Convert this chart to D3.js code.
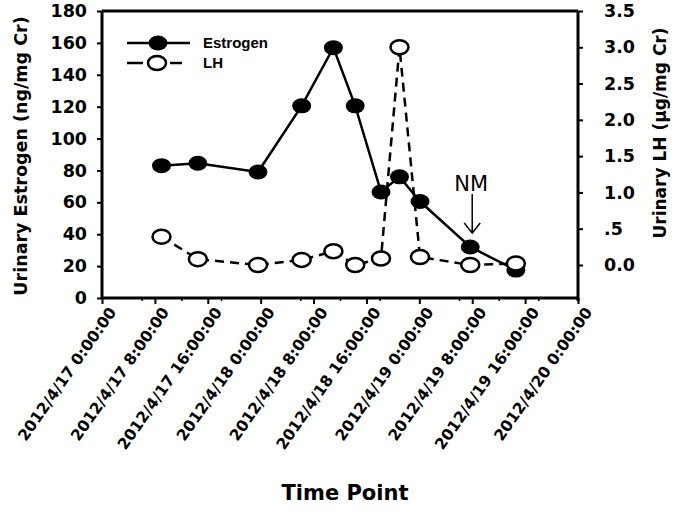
<!DOCTYPE html>
<html>
<head>
<meta charset="utf-8">
<script src="https://cdn.jsdelivr.net/npm/d3@7"></script>
<style>
  body { margin: 0; background: #fff; }
  svg text { fill: #000; }
</style>
</head>
<body>
<div id="container"></div>
<script>
/* CONSTANTS AND GLOBALS */
const width = 675,
  height = 515,
  margin = { left: 102, top: 11, bottom: 217, right: 95 };

/* DATA */
const timePoints = ["2012-04-17 09:00", "2012-04-17 14:30", "2012-04-17 23:36", "2012-04-18 06:12",
  "2012-04-18 11:00", "2012-04-18 14:18", "2012-04-18 18:12", "2012-04-18 21:00",
  "2012-04-19 00:06", "2012-04-19 07:42", "2012-04-19 14:36"];
const estrogen = [83, 84.5, 79, 120.5, 157, 120.5, 66.5, 76, 60.5, 32, 17.5];
const lh = [0.39, 0.08, 0.0, 0.07, 0.19, 0.0, 0.09, 3.0, 0.11, 0.0, 0.02];
const leftTicks = [0, 20, 40, 60, 80, 100, 120, 140, 160, 180];
const rightTicks = [0, 0.5, 1.0, 1.5, 2.0, 2.5, 3.0, 3.5];
const xStart = "2012-04-17 00:00", xEnd = "2012-04-20 00:00";
const nmTime = "2012-04-19 08:00";

const parse = d3.timeParse("%Y-%m-%d %H:%M");
const data = timePoints.map((t, i) => ({ t: parse(t), e: estrogen[i], lh: lh[i] }));

// SCALES
const xScale = d3.scaleTime()
  .domain([parse(xStart), parse(xEnd)])
  .range([margin.left, width - margin.right - 2]);

const yLeft = d3.scaleLinear()
  .domain([0, 180])
  .range([height - margin.bottom, margin.top]);

const yRight = d3.scaleLinear()
  .domain([-0.455, 3.5])
  .range([height - margin.bottom, margin.top]);

// CREATE SVG ELEMENT
const svg = d3.select("#container")
  .append("svg")
  .attr("width", width)
  .attr("height", height);

const x0 = xScale.range()[0], x1 = xScale.range()[1];
const yTop = margin.top, yBot = height - margin.bottom;

// frame (top line)
svg.append("line")
  .attr("x1", x0).attr("x2", x1).attr("y1", yTop).attr("y2", yTop)
  .attr("stroke", "#000").attr("stroke-width", 3);

// AXES
const tickFont = "'DejaVu Sans', sans-serif";

const leftAxis = d3.axisLeft(yLeft).tickValues(leftTicks).tickSize(5).tickPadding(10);
svg.append("g")
  .attr("transform", `translate(${x0},0)`)
  .call(leftAxis)
  .call(g => g.select(".domain").attr("stroke-width", 3).attr("d", `M0,${yTop}V${yBot}`))
  .call(g => g.selectAll(".tick line").attr("stroke-width", 2))
  .call(g => g.selectAll(".tick text")
    .attr("font-family", tickFont).attr("font-weight", "bold").attr("font-size", 17.5));

const rightAxis = d3.axisRight(yRight).tickValues(rightTicks).tickSize(5).tickPadding(21)
  .tickFormat(d => d === 0.5 ? ".5" : d3.format(".1f")(d));
svg.append("g")
  .attr("transform", `translate(${x1},0)`)
  .call(rightAxis)
  .call(g => g.select(".domain").attr("stroke-width", 3).attr("d", `M0,${yTop}V${yBot + 3}`))
  .call(g => g.selectAll(".tick line").attr("stroke-width", 2))
  .call(g => g.selectAll(".tick text")
    .attr("font-family", tickFont).attr("font-weight", "bold").attr("font-size", 17.5));

// x axis: major ticks every 8 h, minor every 6 h
const fmt = d3.timeFormat("%Y/%-m/%-d %-H:%M:%S");
const minorTicks = d3.timeHour.every(6).range(parse(xStart), parse(xEnd))
  .filter(d => d.getHours() % 8 !== 0);

svg.append("g")
  .attr("transform", `translate(0,${yBot})`)
  .call(d3.axisBottom(xScale).tickValues(minorTicks).tickSize(3).tickFormat(""))
  .call(g => g.select(".domain").remove())
  .call(g => g.selectAll(".tick line").attr("stroke-width", 1.5));

const xAxis = d3.axisBottom(xScale)
  .tickValues(d3.timeHour.every(8).range(parse(xStart), d3.timeHour.offset(parse(xEnd), 1)))
  .tickSize(6)
  .tickFormat(fmt);

svg.append("g")
  .attr("transform", `translate(0,${yBot})`)
  .call(xAxis)
  .call(g => g.select(".domain").attr("stroke-width", 3).attr("d", `M${x0},0H${x1}`))
  .call(g => g.selectAll(".tick line").attr("stroke-width", 2))
  .call(g => g.selectAll(".tick text")
    .attr("font-family", tickFont).attr("font-weight", "bold").attr("font-size", 15.5)
    .attr("text-anchor", "end")
    .attr("dy", 0)
    .attr("transform", "translate(7,9) rotate(-55)"));

// AXIS TITLES
svg.append("text")
  .attr("transform", `translate(27,${156}) rotate(-90)`)
  .attr("text-anchor", "middle")
  .attr("font-family", tickFont).attr("font-weight", "bold").attr("font-size", 17.5)
  .text("Urinary Estrogen (ng/mg Cr)");

svg.append("text")
  .attr("transform", `translate(666,${133}) rotate(-90)`)
  .attr("text-anchor", "middle")
  .attr("font-family", tickFont).attr("font-weight", "bold").attr("font-size", 17)
  .text("Urinary LH (µg/mg Cr)");

svg.append("text")
  .attr("x", 345).attr("y", 500)
  .attr("text-anchor", "middle")
  .attr("font-family", tickFont).attr("font-weight", "bold").attr("font-size", 21)
  .text("Time Point");

// LINE GENERATORS
const lineE = d3.line().x(d => xScale(d.t)).y(d => yLeft(d.e));
const lineLH = d3.line().x(d => xScale(d.t)).y(d => yRight(d.lh));

svg.append("path")
  .datum(data)
  .attr("d", lineLH)
  .attr("fill", "none").attr("stroke", "#000").attr("stroke-width", 2.5)
  .attr("stroke-dasharray", "9,6");

svg.append("path")
  .datum(data)
  .attr("d", lineE)
  .attr("fill", "none").attr("stroke", "#000").attr("stroke-width", 2.5);

// MARKERS
svg.selectAll(".e-pt")
  .data(data)
  .join("ellipse")
  .attr("class", "e-pt")
  .attr("cx", d => xScale(d.t)).attr("cy", d => yLeft(d.e))
  .attr("rx", 9.5).attr("ry", 7.5)
  .attr("fill", "#000");

svg.selectAll(".lh-pt")
  .data(data)
  .join("ellipse")
  .attr("class", "lh-pt")
  .attr("cx", d => xScale(d.t)).attr("cy", d => yRight(d.lh))
  .attr("rx", 9).attr("ry", 7)
  .attr("fill", "#fff").attr("stroke", "#000").attr("stroke-width", 2.5);

// LEGEND
const legend = svg.append("g");
legend.append("line").attr("x1", 127).attr("x2", 190).attr("y1", 43).attr("y2", 43)
  .attr("stroke", "#000").attr("stroke-width", 2.5);
legend.append("ellipse").attr("cx", 158).attr("cy", 43).attr("rx", 9.5).attr("ry", 7.5).attr("fill", "#000");
legend.append("line").attr("x1", 127).attr("x2", 143).attr("y1", 63).attr("y2", 63)
  .attr("stroke", "#000").attr("stroke-width", 2.5);
legend.append("line").attr("x1", 170).attr("x2", 182).attr("y1", 63).attr("y2", 63)
  .attr("stroke", "#000").attr("stroke-width", 2.5);
legend.append("ellipse").attr("cx", 157).attr("cy", 63).attr("rx", 9).attr("ry", 7)
  .attr("fill", "#fff").attr("stroke", "#000").attr("stroke-width", 2.5);
legend.append("text").attr("x", 203).attr("y", 48)
  .attr("font-family", "'Liberation Sans', Arial, sans-serif").attr("font-weight", "bold").attr("font-size", 15)
  .text("Estrogen");
legend.append("text").attr("x", 203).attr("y", 68)
  .attr("font-family", "'Liberation Sans', Arial, sans-serif").attr("font-weight", "bold").attr("font-size", 15)
  .text("LH");

// NM ANNOTATION
const nmX = xScale(parse(nmTime));
svg.append("text")
  .attr("x", nmX - 1).attr("y", 191)
  .attr("text-anchor", "middle")
  .attr("font-family", tickFont).attr("font-size", 21)
  .text("NM");
svg.append("path")
  .attr("d", `M${nmX},194V233M${nmX - 8},223L${nmX},233L${nmX + 8},223`)
  .attr("fill", "none").attr("stroke", "#000").attr("stroke-width", 1.5);
</script>
</body>
</html>
